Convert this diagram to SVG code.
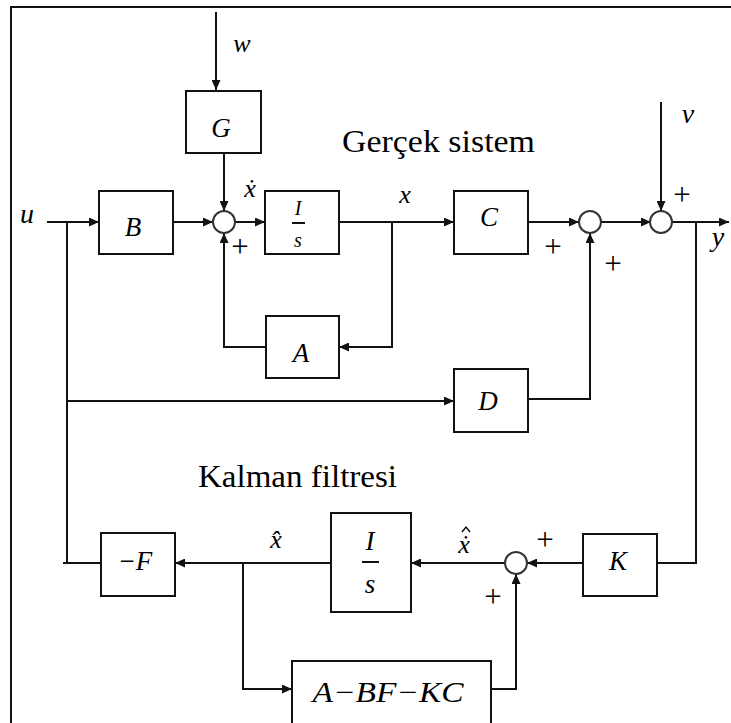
<svg xmlns="http://www.w3.org/2000/svg" width="731" height="723" viewBox="0 0 731 723">
<style>
.box{fill:#fff;stroke:#111;stroke-width:2}
.sum{fill:#fff;stroke:#333;stroke-width:2}
.ln{fill:none;stroke:#111;stroke-width:2}
.ar{marker-end:url(#ah)}
.m{font-family:"Liberation Serif","DejaVu Serif","Times New Roman",serif;font-style:italic;fill:#000;text-anchor:middle}
.t{font-family:"Liberation Serif","DejaVu Serif","Times New Roman",serif;fill:#000}
.p{font-family:"Liberation Serif","DejaVu Serif","Times New Roman",serif;fill:#000;text-anchor:middle;font-size:31px}
</style>
<defs>
<marker id="ah" markerUnits="userSpaceOnUse" markerWidth="11" markerHeight="9" refX="10" refY="4.5" orient="auto">
<path d="M0,0 L10,4.5 L0,9 z" fill="#111"/>
</marker>
</defs>
<rect width="731" height="723" fill="#fff"/>
<path class="ln" d="M11,723 V7 H731"/>

<g id="connectors">
<path class="ln ar" d="M216,12 V90"/>
<path class="ln ar" d="M224,153 V211"/>
<path class="ln ar" d="M47,222 H99"/>
<path class="ln ar" d="M173,222 H213"/>
<path class="ln ar" d="M235,222 H265"/>
<path class="ln ar" d="M339,222 H454"/>
<path class="ln ar" d="M392,222 V347 H339"/>
<path class="ln ar" d="M266,347 H224 V233"/>
<path class="ln ar" d="M528,222 H579"/>
<path class="ln ar" d="M528,399 H590 V233"/>
<path class="ln ar" d="M601,222 H651"/>
<path class="ln ar" d="M661,102 V211"/>
<path class="ln ar" d="M672,222 H729"/>
<path class="ln" d="M696,222 V563 H657"/>
<path class="ln ar" d="M583,563 H527"/>
<path class="ln ar" d="M505,563 H411"/>
<path class="ln ar" d="M331,563 H175"/>
<path class="ln ar" d="M243,563 V689 H292"/>
<path class="ln ar" d="M491,689 H516 V574"/>
<path class="ln" d="M101,563 H63 M67,222 V563"/>
<path class="ln ar" d="M67,401 H454"/>
</g>

<g id="labels">
<text class="m" x="242" y="52" font-size="26">w</text>
<text class="m" x="688" y="123" font-size="28">v</text>
<text class="m" x="27" y="223" font-size="28">u</text>
<text class="m" x="718" y="246" font-size="28">y</text>
<text class="m" x="405" y="203" font-size="26">x</text>
<text class="m" x="250" y="197" font-size="26">ẋ</text>
<text class="m" x="276" y="548" font-size="26">x̂</text>
<text class="m" x="464" y="553" font-size="26">ẋ</text>
<path d="M462,532 L466,527 L470,532" fill="none" stroke="#000" stroke-width="1.3"/>
<text class="p" x="240" y="257">+</text>
<text class="p" x="553" y="257">+</text>
<text class="p" x="613" y="274">+</text>
<text class="p" x="682" y="205">+</text>
<text class="p" x="545" y="550">+</text>
<text class="p" x="493" y="607">+</text>
<text class="t" x="342" y="152" font-size="31" textLength="193" lengthAdjust="spacingAndGlyphs">Gerçek sistem</text>
<text class="t" x="198" y="487" font-size="31" textLength="199" lengthAdjust="spacingAndGlyphs">Kalman filtresi</text>
</g>

<g id="G"><rect class="box" x="186" y="91" width="75" height="62"/><text class="m" x="221" y="137" font-size="27">G</text></g>
<g id="B"><rect class="box" x="99" y="191" width="74" height="63"/><text class="m" x="133" y="236" font-size="27">B</text></g>
<g id="sum1"><circle class="sum" cx="224" cy="222" r="11"/></g>
<g id="int1"><rect class="box" x="265" y="191" width="74" height="63"/><text class="m" x="298" y="215" font-size="20">I</text><path class="ln" d="M292,223 H305"/><text class="m" x="298" y="247" font-size="20">s</text></g>
<g id="A"><rect class="box" x="266" y="316" width="73" height="62"/><text class="m" x="301" y="362" font-size="27">A</text></g>
<g id="C"><rect class="box" x="454" y="191" width="74" height="63"/><text class="m" x="489" y="226" font-size="27">C</text></g>
<g id="sum2"><circle class="sum" cx="590" cy="222" r="11"/></g>
<g id="sum3"><circle class="sum" cx="661" cy="222" r="11"/></g>
<g id="D"><rect class="box" x="454" y="369" width="74" height="63"/><text class="m" x="488" y="410" font-size="27">D</text></g>
<g id="negF"><rect class="box" x="101" y="533" width="74" height="63"/><text class="m" x="135" y="570" font-size="27">−F</text></g>
<g id="int2"><rect class="box" x="331" y="513" width="80" height="99"/><text class="m" x="370" y="550" font-size="27">I</text><path class="ln" d="M362,562 H379"/><text class="m" x="370" y="593" font-size="27">s</text></g>
<g id="sum4"><circle class="sum" cx="516" cy="563" r="11"/></g>
<g id="K"><rect class="box" x="583" y="534" width="74" height="62"/><text class="m" x="618" y="570" font-size="27">K</text></g>
<g id="ABFKC"><rect class="box" x="292" y="661" width="199" height="70"/><text class="m" x="388" y="702" font-size="29" textLength="151" lengthAdjust="spacingAndGlyphs">A−BF−KC</text></g>
</svg>
